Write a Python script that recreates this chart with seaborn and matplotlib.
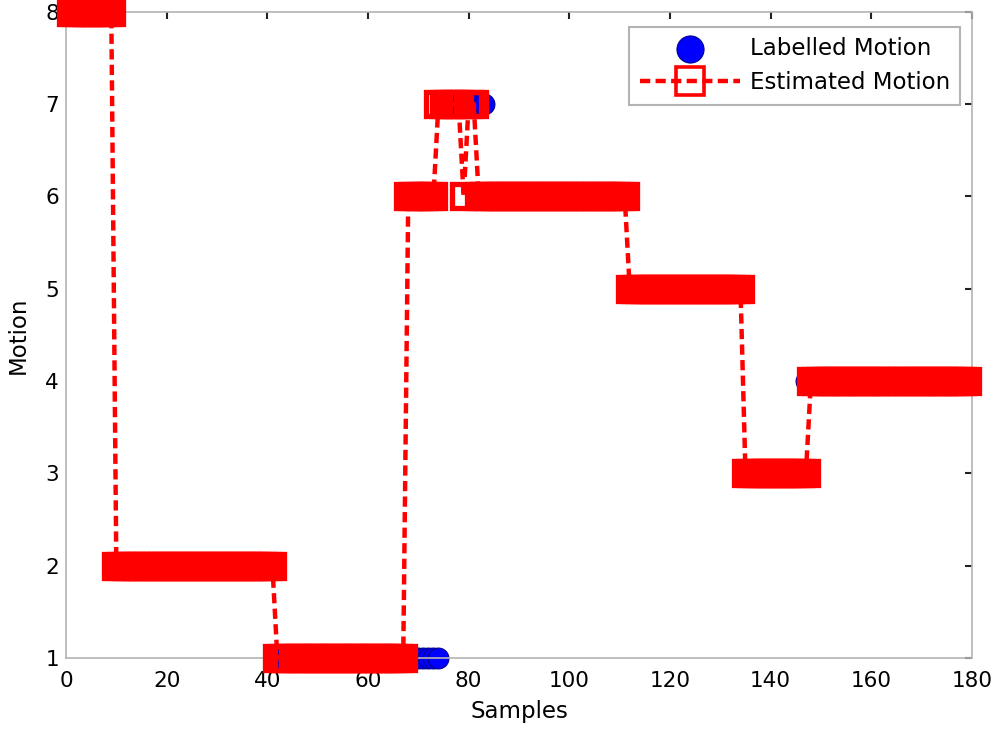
import numpy as np
import pandas as pd
import matplotlib
matplotlib.use("Agg")
import matplotlib.pyplot as plt
from matplotlib.markers import MarkerStyle
import seaborn as sns

#값 (run-length: 레벨, 개수)
labelled_levels = [8, 2, 1, 7, 6, 5, 3, 4]
labelled_counts = [9, 32, 33, 9, 28, 23, 12, 33]

estimated_levels = [8, 2, 1, 6, 7, 6, 7, 6, 5, 3, 4]
estimated_counts = [9, 32, 26, 6, 5, 1, 2, 30, 23, 13, 32]

x_ticks = [0, 20, 40, 60, 80, 100, 120, 140, 160, 180]
y_ticks = [1, 2, 3, 4, 5, 6, 7, 8]

labelled = np.repeat(labelled_levels, labelled_counts)
estimated = np.repeat(estimated_levels, estimated_counts)
samples = np.arange(1, len(labelled) + 1)
df = pd.DataFrame({"Samples": samples, "Labelled": labelled, "Estimated": estimated})

sns.set_style("white")
plt.rcParams['font.family'] = ['DejaVu Sans']
plt.rcParams['text.color'] = 'black'
plt.rcParams['axes.labelcolor'] = 'black'
plt.rcParams['xtick.color'] = 'black'
plt.rcParams['ytick.color'] = 'black'

fig = plt.figure(figsize=(10, 7.32), dpi=100)
ax = fig.add_axes([0.066, 0.101, 0.906, 0.883])

sns.scatterplot(data=df, x="Samples", y="Labelled", ax=ax, s=225, color="#0000ff",
                edgecolor="#000090", linewidth=0.8, clip_on=False, zorder=2,
                label="Labelled Motion")
sns.lineplot(data=df, x="Samples", y="Estimated", ax=ax, estimator=None, errorbar=None,
             color="red", linewidth=3.2, linestyle=(0, (2.3, 1.2)),
             marker=MarkerStyle("s", joinstyle="miter"), markersize=17.5,
             markerfacecolor="none", markeredgecolor="red",
             markeredgewidth=3.8, clip_on=False, zorder=3, label="Estimated Motion")

ax.set_xlim(0, 180)
ax.set_ylim(1, 8)
ax.set_xticks(x_ticks)
ax.set_yticks(y_ticks)
ax.set_xlabel("Samples", fontsize=16.5, labelpad=7)
ax.set_ylabel("Motion", fontsize=16.5, labelpad=11)
ax.tick_params(axis="both", direction="in", length=5, width=1.5, color="#222222",
               labelsize=15.5, top=True, right=True)
ax.tick_params(axis="x", pad=9)
ax.tick_params(axis="y", pad=5)
for sp in ax.spines.values():
    sp.set_color("#b4b4b4")
    sp.set_linewidth(1.2)

leg = ax.legend(loc="upper right", bbox_to_anchor=(0.987, 0.977), borderaxespad=0,
                fontsize=16.5, fancybox=False, framealpha=1, edgecolor="#b4b4b4",
                handlelength=4.4, handletextpad=0.4, labelspacing=0.5, borderpad=0.45)
leg.get_frame().set_linewidth(1.5)
#범례 마커 크기 조정
leg.legend_handles[0].set_sizes([380])
leg.legend_handles[1].set_markersize(20)
leg.legend_handles[1].set_markeredgewidth(2.6)

fig.savefig("out.png", dpi=100)
